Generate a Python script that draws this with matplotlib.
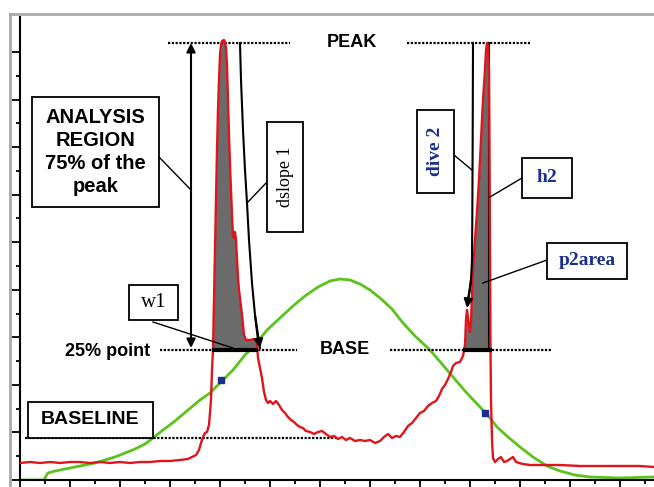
import numpy as np
import matplotlib.pyplot as plt
from matplotlib.patches import Rectangle
from matplotlib.lines import Line2D

# red signal trace (x right of the y axis, y up from the x axis)
red_x = [0, 10, 20, 30, 40, 50, 60, 70, 80, 90, 100, 110, 120, 130, 140, 150, 160, 168,
         172, 176, 179, 181, 183, 185, 187, 189, 191, 192, 193, 194, 195, 196, 197, 198,
         199, 200, 201, 202, 204, 205, 206, 207, 208, 209, 210, 211, 212, 213, 214, 215,
         216, 217, 218, 219, 220, 222, 224, 226, 230, 234, 236, 237, 238, 240, 242, 244,
         246, 248, 250, 253, 256, 259, 262, 265, 268, 271, 274, 277, 280, 283, 286, 290,
         294, 298, 302, 306, 310, 314, 318, 322, 326, 330, 335, 340, 345, 350, 355, 360,
         364, 368, 372, 376, 380, 384, 388, 392, 396, 400, 404, 408, 412, 416, 419, 422,
         425, 428, 431, 433, 436, 440, 443, 445, 446, 447, 448, 450, 451, 453, 455, 457,
         459, 461, 463, 465, 466, 467, 468, 469, 469.5, 470, 470.5, 471, 472, 473, 475,
         478, 481, 484, 487, 490, 493, 496, 499, 503, 510, 520, 540, 560, 580, 600, 620, 634]
red_y = [17, 18, 17, 18, 17, 18, 18, 17, 18, 17, 18, 17, 18, 18, 19, 19, 20, 21,
         23, 25, 30, 37, 43, 47, 48, 55, 80, 110, 130, 180, 230, 280, 330, 370,
         400, 425, 435, 439, 440, 438, 432, 415, 380, 345, 315, 290, 265, 244, 242, 248,
         240, 220, 202, 190, 182, 165, 145, 140, 140, 141, 140, 135, 122, 112, 102, 88,
         80, 77, 79, 76, 79, 75, 70, 67, 63, 60, 58, 55, 53, 52, 49, 48,
         46, 48, 49, 46, 43, 44, 41, 43, 40, 42, 39, 40, 39, 40, 37, 39,
         43, 46, 42, 44, 43, 48, 54, 57, 62, 67, 69, 74, 77, 79, 84, 91,
         95, 101, 108, 114, 117, 118, 124, 135, 160, 170, 162, 148, 158, 212, 240, 268,
         300, 340, 380, 410, 430, 437, 433, 410, 330, 230, 130, 80, 40, 22, 18,
         21, 23, 18, 19, 21, 23, 18, 17, 16, 15, 15, 15, 14, 14, 14, 14, 13]

# green reference curve
green_x = [0, 24, 26, 28, 35, 45, 55, 65, 75, 85, 95, 105, 115, 125, 133, 143, 155, 168,
           180, 190, 200, 213, 225, 235, 247, 260, 273, 285, 298, 310, 320, 330, 340,
           350, 360, 372, 383, 395, 410, 422, 433, 445, 460, 470, 477, 488, 500, 513,
           527, 540, 555, 570, 600, 634]
green_y = [0, 0, 4, 7, 9, 11, 13, 15, 17, 20, 23, 27, 31, 36, 42, 50, 59, 70,
           80, 87, 97, 110, 125, 135, 150, 162, 174, 184, 193, 199, 201, 200, 196,
           190, 182, 171, 157, 144, 130, 116, 103, 89, 73, 62, 53, 43, 33, 23,
           14, 9, 5, 3, 2, 3]

# blue markers
blue_x = [201, 465]
blue_y = [100, 67]

# reference levels
peak_level = 437
base_level = 130
baseline_level = 42
peak1_span = (185, 245)
peak2_span = (440, 475)

# slope guide lines
dslope_x = [220, 221, 223, 225, 227, 229, 232, 235, 238, 240]
dslope_y = [437, 400, 350, 310, 277, 240, 197, 165, 140, 132]
dive_x = [453, 452.7, 452.3, 452, 451, 449.5, 447]
dive_y = [437, 350, 260, 220, 200, 188, 176]

red = '#e0151b'
green = '#5cc21c'
navy = '#1b2f8f'
sans = 'Liberation Sans'
serif = 'Liberation Serif'

fig = plt.figure(figsize=(6.54, 4.87), dpi=100)
ax = fig.add_axes([20 / 654, 7 / 487, 634 / 654, 463 / 487])
ax.set_xlim(0, 634)
ax.set_ylim(0, 463)

# grey outer frame
fig.add_artist(Line2D([10 / 654, 10 / 654], [0, 473 / 487], color='#a9a9a9', lw=2))
fig.add_artist(Line2D([10 / 654, 1], [473 / 487, 473 / 487], color='#a9a9a9', lw=2))

for s in ['top', 'right']:
    ax.spines[s].set_visible(False)
for s in ['left', 'bottom']:
    ax.spines[s].set_linewidth(1.5)
ax.set_xticks(np.arange(0, 634, 50))
ax.set_xticks(np.arange(25, 634, 50), minor=True)
ystep = 23.78
ax.set_yticks(np.arange(0, 10) * 2 * ystep)
ax.set_yticks(np.arange(0, 9) * 2 * ystep + ystep, minor=True)
ax.set_xticklabels([])
ax.set_yticklabels([])
ax.tick_params(which='major', length=6, width=1.3, direction='out')
ax.tick_params(which='minor', length=3, width=1.3, direction='out')

rx = np.array(red_x, dtype=float)
ry = np.array(red_y, dtype=float)

ax.plot(green_x, green_y, color=green, lw=2.0, zorder=2)
for lo, hi in [peak1_span, peak2_span]:
    ax.fill_between(rx, ry, base_level, where=(rx >= lo) & (rx <= hi) & (ry >= base_level),
                    interpolate=True, color='#6b6b6b', lw=0, zorder=3)
ax.plot(rx, ry, color=red, lw=1.7, zorder=4)
ax.plot(blue_x, blue_y, 's', color=navy, ms=4.5, zorder=5)

dots = dict(color='k', lw=1.6, ls=(0, (1, 0.7)), zorder=3)
ax.plot([148, 270], [peak_level, peak_level], **dots)
ax.plot([387, 510], [peak_level, peak_level], **dots)
ax.plot([140, 277], [base_level, base_level], **dots)
ax.plot([370, 532], [base_level, base_level], **dots)
ax.plot([5, 317], [baseline_level, baseline_level], **dots)

ax.plot([192, 238], [base_level, base_level], color='k', lw=3, solid_capstyle='butt', zorder=5)
ax.plot([443, 472], [base_level, base_level], color='k', lw=3, solid_capstyle='butt', zorder=5)
ax.plot([469, 469], [peak_level, base_level], color='k', lw=1.5, zorder=3)

head = dict(color='k', lw=1.5, mutation_scale=13, shrinkA=0, shrinkB=0)
ax.annotate('', xy=(171, peak_level), xytext=(171, 132),
            arrowprops=dict(arrowstyle='<|-|>', **head), zorder=5)
ax.plot(dslope_x, dslope_y, color='k', lw=1.5, zorder=5)
ax.annotate('', xy=(dslope_x[-1], dslope_y[-1]), xytext=(dslope_x[-3], dslope_y[-3]),
            arrowprops=dict(arrowstyle='-|>', **head), zorder=5)
ax.plot(dive_x, dive_y, color='k', lw=1.5, zorder=5)
ax.annotate('', xy=(dive_x[-1], dive_y[-1] - 4), xytext=(dive_x[-3], dive_y[-3]),
            arrowprops=dict(arrowstyle='-|>', **head), zorder=5)

# leader lines
leaders = [((139, 323), (171, 290)), ((247, 298), (227, 277)), ((133, 158), (213, 132)),
           ((434, 325), (452, 310)), ((502, 302), (470, 283)), ((527, 220), (463, 197))]
for (x0, y0), (x1, y1) in leaders:
    ax.plot([x0, x1], [y0, y1], color='k', lw=1, zorder=5)


def box(x0, y0, x1, y1, text, **kw):
    ax.add_patch(Rectangle((x0, y0), x1 - x0, y1 - y0, facecolor='white',
                           edgecolor='k', lw=1.3, zorder=6))
    ax.text((x0 + x1) / 2, (y0 + y1) / 2, text, ha='center', va='center', zorder=7, **kw)


box(12, 273, 139, 383, 'ANALYSIS\nREGION\n75% of the\npeak', family=sans,
    weight='bold', fontsize=14.5, linespacing=1.25)
box(247, 248, 283, 358, 'dslope 1', family=serif, fontsize=13, rotation=90)
box(109, 160, 158, 195, 'w1', family=serif, fontsize=15)
box(8, 42, 133, 78, 'BASELINE', family=sans, weight='bold', fontsize=14)
box(397, 287, 434, 370, 'dive 2', family=serif, weight='bold', fontsize=14,
    rotation=90, color=navy)
box(502, 282, 552, 322, 'h2', family=serif, weight='bold', fontsize=14, color=navy)
box(527, 201, 607, 237, 'p2area', family=serif, weight='bold', fontsize=14, color=navy)

ax.text(332, peak_level, 'PEAK', family=sans, weight='bold', fontsize=13,
        ha='center', va='center')
ax.text(325, base_level, 'BASE', family=sans, weight='bold', fontsize=13,
        ha='center', va='center')
ax.text(88, base_level - 1, '25% point', family=sans, weight='bold', fontsize=13,
        ha='center', va='center')

fig.savefig('out.png', dpi=100)
